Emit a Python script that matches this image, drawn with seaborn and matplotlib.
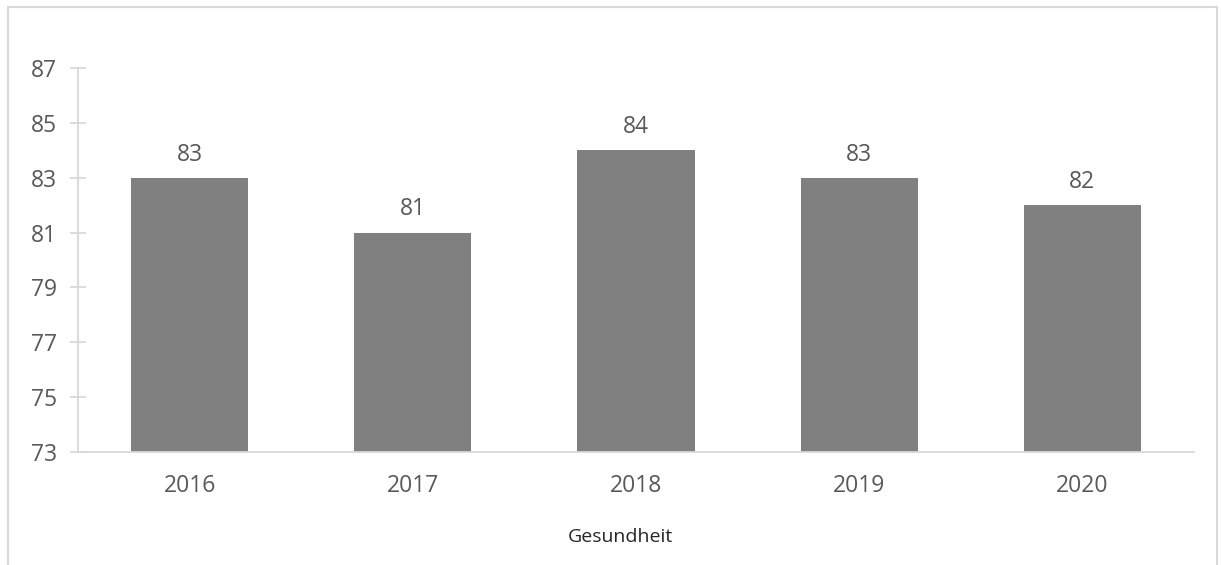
import matplotlib
matplotlib.use("Agg")
import matplotlib.pyplot as plt
import seaborn as sns
import pandas as pd
from matplotlib.patches import Rectangle

years = ["2016", "2017", "2018", "2019", "2020"]
values = [83, 81, 84, 83, 82]
yticks = [73, 75, 77, 79, 81, 83, 85, 87]
xlabel = "Gesundheit"

sns.set_theme(style="white")
plt.rcParams["font.family"] = ["Open Sans", "DejaVu Sans"]

df = pd.DataFrame({"year": years, "value": values})

fig = plt.figure(figsize=(12.21, 5.65), dpi=100)
ax = fig.add_axes([78/1221, 1-452/565, (1194-78)/1221, (452-68)/565])

sns.barplot(data=df, x="year", y="value", color="#808080", saturation=1,
            width=0.525, ax=ax, edgecolor="none")
ax.set_ylim(73, 87)
ax.set_xlim(-0.5, 4.5)
ax.set_yticks(yticks)
ax.set_yticklabels([str(t) for t in yticks])
ax.set_xlabel("")
ax.set_ylabel("")

for s in ["top", "right"]:
    ax.spines[s].set_visible(False)
for s in ["left", "bottom"]:
    ax.spines[s].set_color("#D9D9D9")
    ax.spines[s].set_linewidth(1.3)

ax.tick_params(axis="y", direction="inout", length=11, width=1.3, color="#D9D9D9",
               labelsize=16.5, labelcolor="#595959", pad=9.5, left=True)
ax.tick_params(axis="x", length=0, labelsize=16.5, labelcolor="#595959", pad=16)

for c in ax.containers:
    ax.bar_label(c, labels=[str(v) for v in values], padding=8, fontsize=16.5, color="#595959")

fig.text(620/1221, 1-537/565, xlabel, ha="center", va="center", fontsize=14, color="#262626")

fig.patches.append(Rectangle((8/1221, -0.05), (1217-8)/1221, 1.05-7/565,
                             transform=fig.transFigure, fill=False,
                             edgecolor="#D9D9D9", linewidth=1.5))

fig.savefig("out.png", dpi=100)
